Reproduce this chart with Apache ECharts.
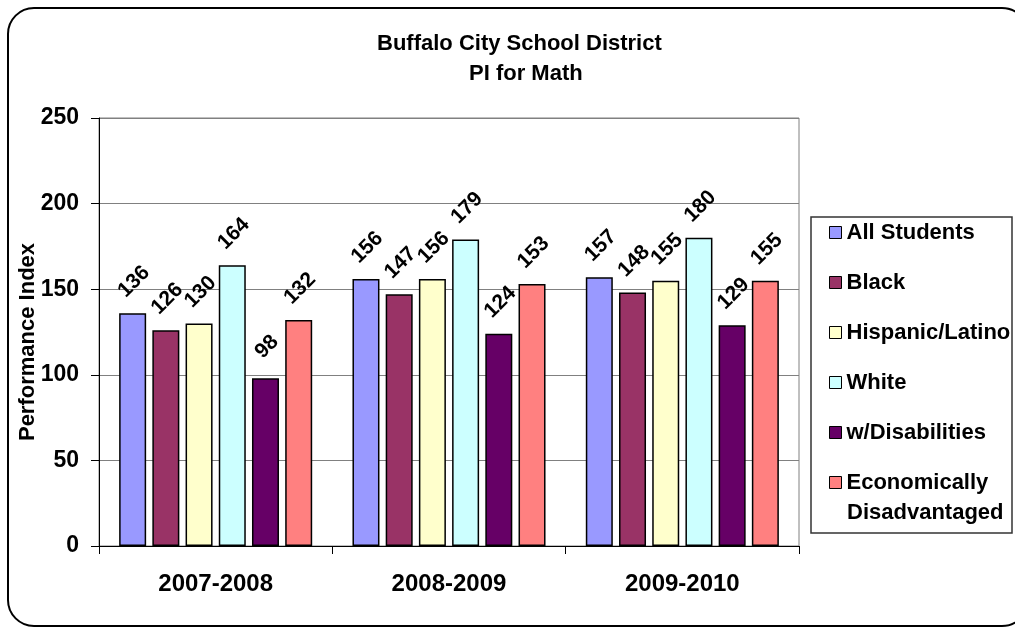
<!DOCTYPE html>
<html>
<head>
<meta charset="utf-8">
<script src="https://cdn.jsdelivr.net/npm/echarts@6/dist/echarts.min.js"></script>
<style>
  html, body { margin: 0; padding: 0; background: #fff; }
  #chart { width: 1015px; height: 629px; }
</style>
</head>
<body>
<div id="chart"></div>
<script>
const years = ['2007-2008', '2008-2009', '2009-2010']
const groups = ['All Students', 'Black', 'Hispanic/Latino', 'White', 'w/Disabilities', 'Economically Disadvantaged']
const colors = ['#9999FF', '#993366', '#FFFFCC', '#CCFFFF', '#660066', '#FF8080']
const allStudents = [136, 156, 157]
const black = [126, 147, 148]
const hispanic = [130, 156, 155]
const white = [164, 179, 180]
const disabilities = [98, 124, 129]
const econDisadv = [132, 153, 155]
const yTicks = { min: 0, max: 250, interval: 50 }

const values = [allStudents, black, hispanic, white, disabilities, econDisadv]
const font = '"Liberation Sans", Arial, sans-serif'
const titleStyle = { fontFamily: font, fontWeight: 'bold', fontSize: 22, color: '#000' }

const myChart = echarts.init(document.getElementById('chart'))

// 柱子系列
const series = groups.map((name, i) => ({
  name: name,
  type: 'bar',
  data: values[i],
  barWidth: 27,
  barGap: '23%',
  itemStyle: { color: colors[i], borderColor: '#000', borderWidth: 1.5 },
  label: {
    show: true,
    position: 'top',
    distance: 30,
    offset: [2, 0],
    rotate: 45,
    align: 'center',
    verticalAlign: 'middle',
    fontFamily: font,
    fontWeight: 'bold',
    fontSize: 21,
    color: '#000'
  }
}))

const option = {
  backgroundColor: '#fff',
  animation: false,
  title: [
    { text: 'Buffalo City School District', left: 377, top: 33, padding: 0, textStyle: titleStyle },
    { text: 'PI for Math', left: 469, top: 63, padding: 0, textStyle: titleStyle }
  ],
  graphic: [
    {
      type: 'rect',
      shape: { x: 8, y: 8, width: 1020, height: 618, r: 26 },
      style: { fill: 'none', stroke: '#000', lineWidth: 2 },
      z: -1
    },
    {
      type: 'rect',
      shape: { x: 811, y: 217, width: 201, height: 316 },
      style: { fill: '#fff', stroke: '#333', lineWidth: 1.5 },
      z: 0
    },
    // 图例最后一项的第二行
    {
      type: 'text',
      x: 847,
      y: 513,
      style: {
        text: 'Disadvantaged',
        font: 'bold 22px "Liberation Sans", Arial, sans-serif',
        fill: '#000',
        verticalAlign: 'middle'
      },
      z: 6
    }
  ],
  legend: {
    orient: 'vertical',
    left: 824,
    top: 215,
    itemWidth: 12,
    itemHeight: 12,
    itemGap: 25,
    icon: 'rect',
    itemStyle: { borderColor: '#000', borderWidth: 1 },
    textStyle: { fontFamily: font, fontWeight: 'bold', fontSize: 22, lineHeight: 25, color: '#000' },
    data: groups,
    formatter: (n) => n === 'Economically Disadvantaged' ? 'Economically' : n,
    selectedMode: false,
    z: 5
  },
  grid: {
    left: 99,
    right: 216,
    top: 118,
    bottom: 83,
    show: true,
    borderColor: '#808080',
    borderWidth: 1,
    backgroundColor: '#fff'
  },
  xAxis: {
    type: 'category',
    data: years,
    axisLine: { lineStyle: { color: '#000', width: 1 } },
    axisTick: { show: true, length: 8, lineStyle: { color: '#000' } },
    axisLabel: { fontFamily: font, fontWeight: 'bold', fontSize: 24, color: '#000', margin: 26 }
  },
  yAxis: {
    type: 'value',
    min: yTicks.min,
    max: yTicks.max,
    interval: yTicks.interval,
    name: 'Performance Index',
    nameLocation: 'middle',
    nameRotate: 90,
    nameGap: 60,
    nameMoveOverlap: false,
    nameTextStyle: { fontFamily: font, fontWeight: 'bold', fontSize: 22, color: '#000', padding: [0, 20, 0, 0] },
    axisLine: { show: true, lineStyle: { color: '#000', width: 1 } },
    axisTick: { show: true, length: 8, lineStyle: { color: '#000' } },
    axisLabel: { fontFamily: font, fontWeight: 'bold', fontSize: 23, color: '#000', margin: 20 },
    splitLine: { lineStyle: { color: '#808080', width: 1 } }
  },
  series: series
}

myChart.setOption(option, true)
</script>
</body>
</html>
